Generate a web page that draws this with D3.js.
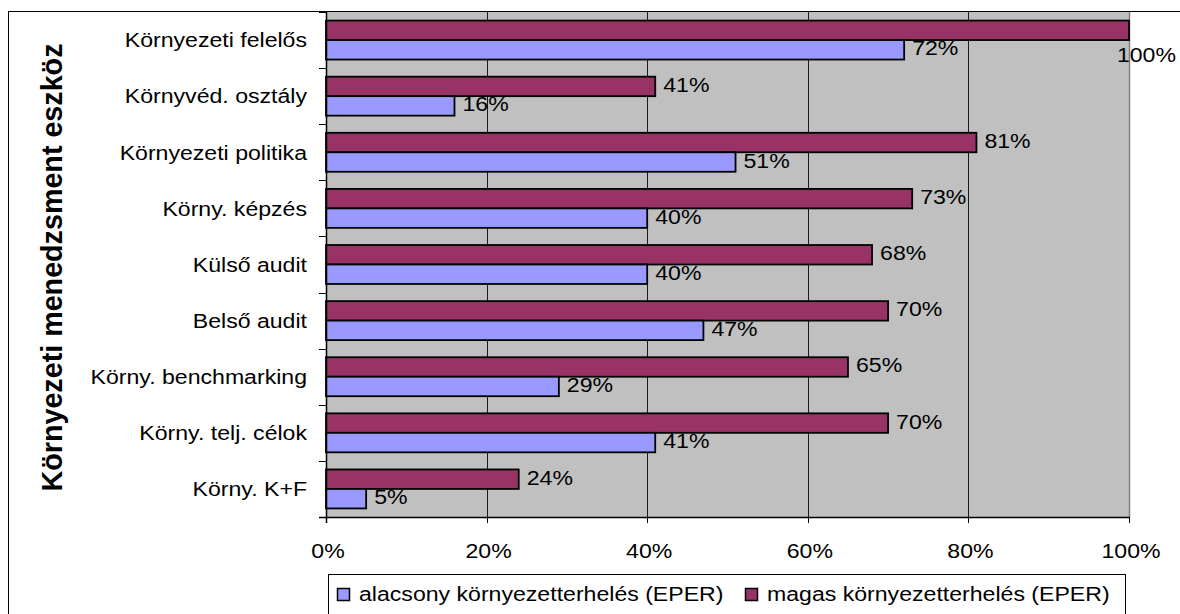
<!DOCTYPE html>
<html>
<head>
<meta charset="utf-8">
<script src="https://cdn.jsdelivr.net/npm/d3@7"></script>
<style>
  html, body { margin: 0; padding: 0; background: #fff; }
  svg { display: block; }
  text { font-family: "Liberation Sans", Arial, sans-serif; fill: #000; }
</style>
</head>
<body>
<svg id="chart" width="1180" height="614"></svg>
<script>
// Environmental management tools, share of companies by pollution level
const categories = [
  "Környezeti felelős",
  "Környvéd. osztály",
  "Környezeti politika",
  "Körny. képzés",
  "Külső audit",
  "Belső audit",
  "Körny. benchmarking",
  "Körny. telj. célok",
  "Körny. K+F"
];
const seriesNames = ["magas környezetterhelés (EPER)", "alacsony környezetterhelés (EPER)"];
const magas    = [100, 41, 81, 73, 68, 70, 65, 70, 24];
const alacsony = [72, 16, 51, 40, 40, 47, 29, 41, 5];
const xTicks = [0, 20, 40, 60, 80, 100];
const axisTitle = "Környezeti menedzsment eszköz";

const seriesColors = { magas: "#993366", alacsony: "#9999FF" };
const W = 1180, H = 614;
const plot = { left: 326, right: 1129, top: 12, bottom: 517 };
const STRETCH = 1.1;      // horizontal glyph stretch for the regular labels
const FONT = 21;

const svg = d3.select("#chart");

// outer chart frame (runs off the right and bottom edges)
svg.append("rect")
  .attr("x", 8.5).attr("y", 11.5)
  .attr("width", W + 20).attr("height", H + 20)
  .attr("fill", "#fff").attr("stroke", "#000").attr("stroke-width", 1);

const x = d3.scaleLinear().domain([0, 100]).range([plot.left, plot.right]);
const y = d3.scaleBand().domain(categories).range([plot.top, plot.bottom]).paddingInner(0).paddingOuter(0);
const ySub = d3.scaleBand().domain(["magas", "alacsony"]).range([0, y.bandwidth()]).paddingInner(0).paddingOuter(0.44);

// plot background
svg.append("rect")
  .attr("x", plot.left).attr("y", plot.top)
  .attr("width", plot.right - plot.left).attr("height", plot.bottom - plot.top)
  .attr("fill", "#C0C0C0");

// vertical gridlines
svg.append("g").selectAll("line")
  .data(xTicks.filter(t => t > 0 && t < 100))
  .join("line")
  .attr("x1", d => Math.round(x(d)) + 0.5).attr("x2", d => Math.round(x(d)) + 0.5)
  .attr("y1", plot.top).attr("y2", plot.bottom)
  .attr("stroke", "#1a1a1a").attr("stroke-width", 1);

// right plot border
svg.append("line")
  .attr("x1", plot.right + 0.5).attr("x2", plot.right + 0.5)
  .attr("y1", plot.top).attr("y2", plot.bottom)
  .attr("stroke", "#808080").attr("stroke-width", 1.5);

// helper: regular text with horizontal stretch around its anchor
function stretchedText(g, tx, ty, str, anchor, size) {
  return g.append("text")
    .attr("transform", `translate(${tx},${ty}) scale(${STRETCH},1)`)
    .attr("text-anchor", anchor)
    .style("font-size", (size || FONT) + "px")
    .text(str);
}

// bars
const rows = categories.map((c, i) => ({ cat: c, magas: magas[i], alacsony: alacsony[i] }));
const barG = svg.append("g");
["magas", "alacsony"].forEach(key => {
  barG.selectAll("rect." + key)
    .data(rows)
    .join("rect")
    .attr("class", key)
    .attr("x", x(0))
    .attr("y", d => y(d.cat) + ySub(key))
    .attr("width", d => x(d[key]) - x(0))
    .attr("height", ySub.bandwidth())
    .attr("fill", seriesColors[key])
    .attr("stroke", "#000").attr("stroke-width", 1.8);
});

// value labels
const labelG = svg.append("g");
["magas", "alacsony"].forEach(key => {
  rows.forEach(d => {
    const str = d[key] + "%";
    const barTop = y(d.cat) + ySub(key);
    const cy = barTop + ySub.bandwidth() / 2;
    let lx = x(d[key]) + 8;
    let ly = cy + 5.5;
    const t = stretchedText(labelG, lx, ly, str, "start");
    const w = t.node().getComputedTextLength() * STRETCH;
    if (lx + w > W - 2) {
      // label would leave the chart: pull it back inside, below the bar
      lx = W - 4 - w;
      ly = barTop + ySub.bandwidth() + 22;
      t.attr("transform", `translate(${lx},${ly}) scale(${STRETCH},1)`);
    }
  });
});

// y axis line and ticks
const axisG = svg.append("g");
axisG.append("line")
  .attr("x1", plot.left + 0.5).attr("x2", plot.left + 0.5)
  .attr("y1", plot.top).attr("y2", plot.bottom + 6)
  .attr("stroke", "#000").attr("stroke-width", 1.5);
const bounds = categories.map(c => y(c)).concat([plot.bottom]);
axisG.selectAll("line.ytick")
  .data(bounds)
  .join("line")
  .attr("class", "ytick")
  .attr("x1", plot.left - 7).attr("x2", plot.left)
  .attr("y1", d => Math.round(d) + 0.5).attr("y2", d => Math.round(d) + 0.5)
  .attr("stroke", "#000").attr("stroke-width", 1);

// x axis line and ticks
axisG.append("line")
  .attr("x1", plot.left - 7).attr("x2", plot.right + 1)
  .attr("y1", plot.bottom + 0.5).attr("y2", plot.bottom + 0.5)
  .attr("stroke", "#000").attr("stroke-width", 1.5);
axisG.selectAll("line.xtick")
  .data(xTicks)
  .join("line")
  .attr("class", "xtick")
  .attr("x1", d => Math.round(x(d)) + 0.5).attr("x2", d => Math.round(x(d)) + 0.5)
  .attr("y1", plot.bottom).attr("y2", plot.bottom + 6)
  .attr("stroke", "#000").attr("stroke-width", 1);

// x tick labels
xTicks.forEach(t => stretchedText(axisG, x(t) + 2, 558, t + "%", "middle"));

// category labels
categories.forEach(c => stretchedText(axisG, 307, y(c) + y.bandwidth() / 2 + 7.3, c, "end"));

// y axis title
svg.append("text")
  .attr("transform", `translate(62,${(plot.top + plot.bottom) / 2 + 3}) rotate(-90)`)
  .attr("text-anchor", "middle")
  .style("font-size", "28.7px")
  .style("font-weight", "bold")
  .text(axisTitle);

// legend
const legend = svg.append("g");
legend.append("rect")
  .attr("x", 328.5).attr("y", 574.5)
  .attr("width", 797).attr("height", 60)
  .attr("fill", "#fff").attr("stroke", "#000").attr("stroke-width", 1);
const legendItems = [
  { key: "alacsony", name: seriesNames[1], sx: 337 },
  { key: "magas", name: seriesNames[0], sx: 745 }
];
legendItems.forEach(it => {
  legend.append("rect")
    .attr("x", it.sx + 0.5).attr("y", 588.5)
    .attr("width", 12).attr("height", 12)
    .attr("fill", seriesColors[it.key]).attr("stroke", "#000").attr("stroke-width", 1.5);
  stretchedText(legend, it.sx + 22, 601, it.name, "start");
});
</script>
</body>
</html>
